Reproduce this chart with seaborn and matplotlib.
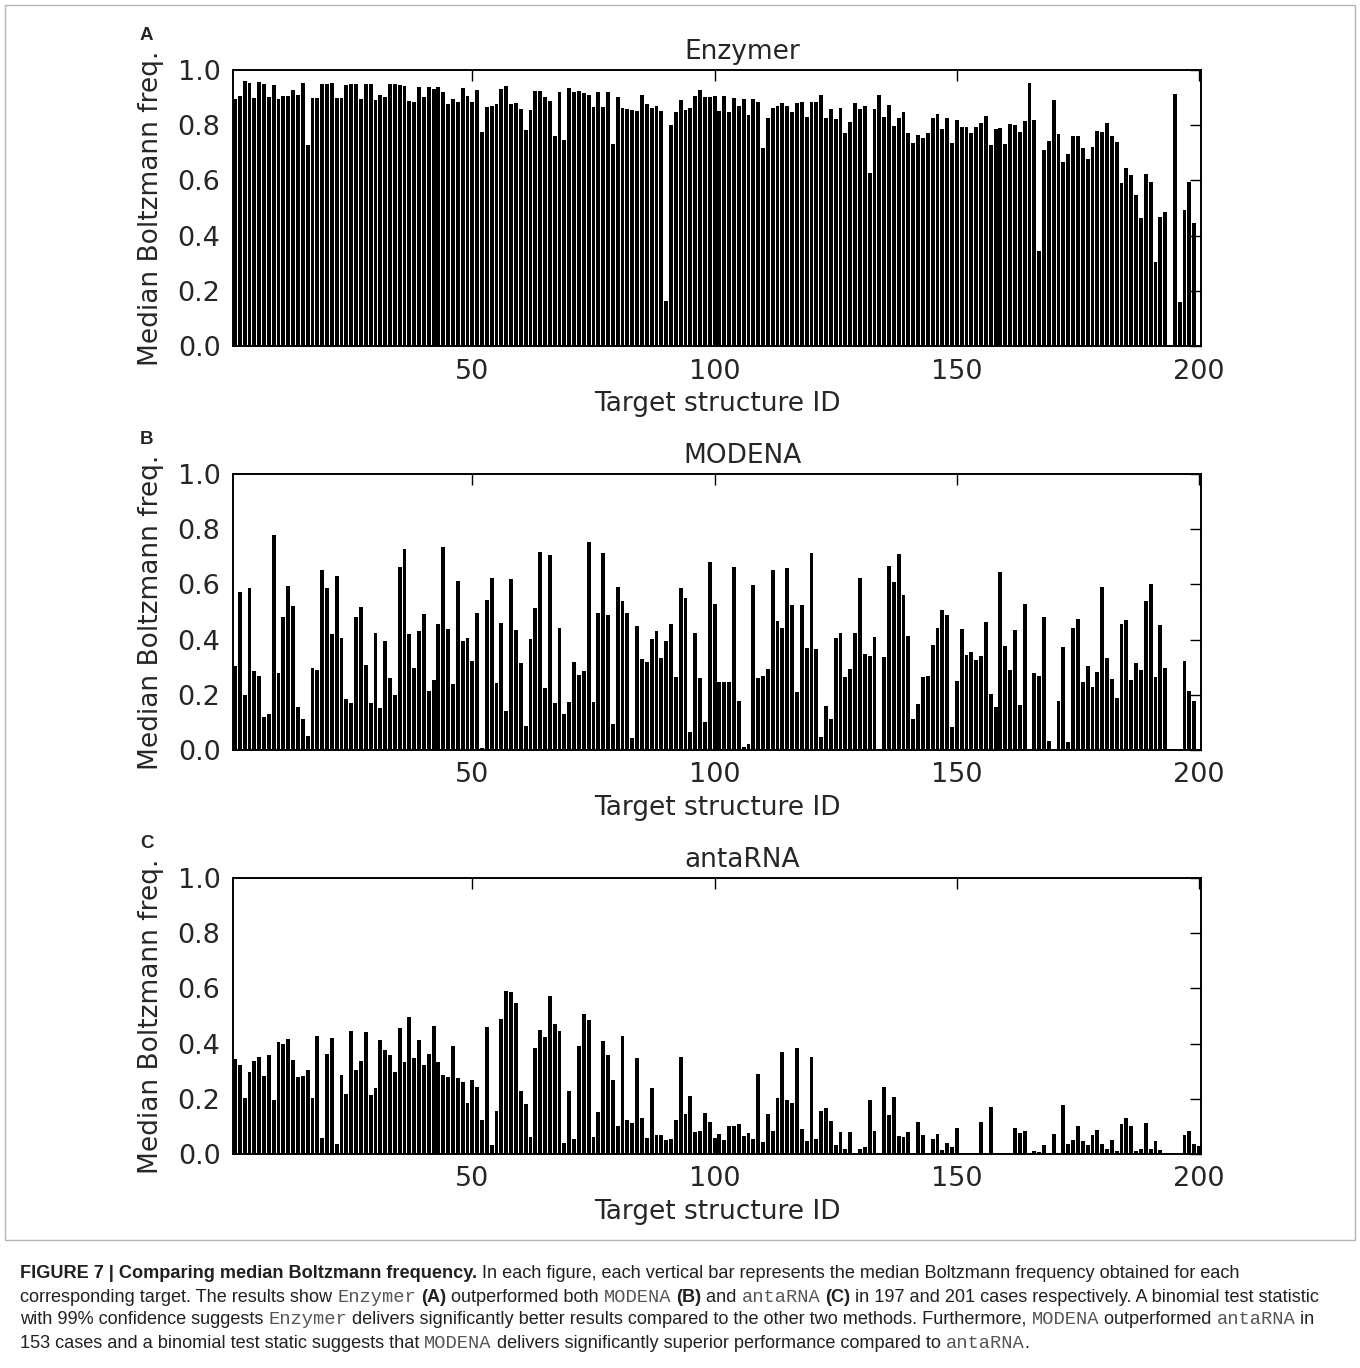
import matplotlib
matplotlib.use("Agg")
import matplotlib.pyplot as plt
import numpy as np
import pandas as pd
import seaborn as sns
from matplotlib.patches import Rectangle

target_ids = np.arange(1, 201)

enzymer_freq = [
    0.894, 0.906, 0.959, 0.953, 0.900, 0.958, 0.949, 0.903, 0.947, 0.896,
    0.905, 0.907, 0.926, 0.909, 0.952, 0.730, 0.900, 0.900, 0.949, 0.949,
    0.952, 0.899, 0.897, 0.947, 0.949, 0.948, 0.896, 0.948, 0.948, 0.890,
    0.909, 0.902, 0.948, 0.948, 0.947, 0.941, 0.886, 0.883, 0.937, 0.903,
    0.937, 0.932, 0.937, 0.920, 0.876, 0.896, 0.885, 0.936, 0.906, 0.885,
    0.927, 0.777, 0.865, 0.870, 0.878, 0.931, 0.941, 0.878, 0.882, 0.857,
    0.781, 0.856, 0.924, 0.924, 0.903, 0.888, 0.760, 0.919, 0.746, 0.935,
    0.919, 0.923, 0.917, 0.911, 0.865, 0.919, 0.865, 0.919, 0.732, 0.902,
    0.861, 0.859, 0.855, 0.850, 0.908, 0.877, 0.861, 0.870, 0.851, 0.164,
    0.801, 0.847, 0.891, 0.855, 0.864, 0.906, 0.926, 0.903, 0.903, 0.907,
    0.851, 0.906, 0.847, 0.897, 0.868, 0.894, 0.837, 0.895, 0.885, 0.716,
    0.825, 0.861, 0.871, 0.880, 0.868, 0.849, 0.879, 0.885, 0.831, 0.883,
    0.885, 0.911, 0.825, 0.859, 0.821, 0.863, 0.771, 0.810, 0.882, 0.860,
    0.871, 0.626, 0.860, 0.908, 0.831, 0.872, 0.798, 0.827, 0.847, 0.772,
    0.737, 0.765, 0.754, 0.772, 0.825, 0.841, 0.787, 0.827, 0.737, 0.819,
    0.795, 0.792, 0.773, 0.792, 0.809, 0.835, 0.730, 0.786, 0.791, 0.732,
    0.803, 0.801, 0.775, 0.814, 0.954, 0.819, 0.344, 0.710, 0.743, 0.891,
    0.768, 0.668, 0.694, 0.762, 0.762, 0.719, 0.679, 0.720, 0.778, 0.775,
    0.809, 0.762, 0.738, 0.589, 0.644, 0.620, 0.548, 0.465, 0.622, 0.595,
    0.306, 0.469, 0.487, 0.000, 0.912, 0.158, 0.494, 0.596, 0.445, 0.000,
]

modena_freq = [
    0.303, 0.571, 0.199, 0.587, 0.285, 0.269, 0.118, 0.130, 0.778, 0.279,
    0.483, 0.595, 0.522, 0.156, 0.114, 0.050, 0.297, 0.289, 0.651, 0.587,
    0.420, 0.632, 0.407, 0.185, 0.170, 0.481, 0.517, 0.307, 0.170, 0.425,
    0.153, 0.394, 0.261, 0.199, 0.662, 0.728, 0.420, 0.296, 0.432, 0.493,
    0.213, 0.255, 0.458, 0.737, 0.438, 0.238, 0.611, 0.394, 0.406, 0.322,
    0.498, 0.007, 0.543, 0.622, 0.241, 0.461, 0.140, 0.621, 0.434, 0.314,
    0.087, 0.401, 0.514, 0.716, 0.224, 0.708, 0.171, 0.441, 0.129, 0.175,
    0.319, 0.272, 0.286, 0.755, 0.175, 0.495, 0.715, 0.488, 0.095, 0.591,
    0.539, 0.498, 0.042, 0.448, 0.330, 0.319, 0.403, 0.430, 0.333, 0.394,
    0.457, 0.263, 0.586, 0.550, 0.066, 0.425, 0.262, 0.101, 0.682, 0.528,
    0.245, 0.246, 0.245, 0.664, 0.178, 0.012, 0.020, 0.597, 0.260, 0.269,
    0.293, 0.652, 0.466, 0.443, 0.661, 0.524, 0.210, 0.527, 0.370, 0.715,
    0.365, 0.046, 0.158, 0.111, 0.407, 0.423, 0.266, 0.295, 0.424, 0.622,
    0.349, 0.342, 0.409, 0.000, 0.338, 0.668, 0.610, 0.711, 0.560, 0.414,
    0.111, 0.168, 0.266, 0.267, 0.379, 0.442, 0.507, 0.490, 0.082, 0.251,
    0.440, 0.344, 0.354, 0.325, 0.341, 0.465, 0.203, 0.156, 0.644, 0.377,
    0.290, 0.436, 0.163, 0.528, 0.000, 0.278, 0.268, 0.482, 0.034, 0.000,
    0.178, 0.372, 0.029, 0.442, 0.473, 0.245, 0.303, 0.230, 0.281, 0.589,
    0.332, 0.256, 0.187, 0.455, 0.470, 0.255, 0.316, 0.291, 0.541, 0.603,
    0.266, 0.453, 0.296, 0.004, 0.004, 0.004, 0.324, 0.214, 0.178, 0.000,
]

antarna_freq = [
    0.343, 0.321, 0.204, 0.297, 0.338, 0.351, 0.281, 0.360, 0.194, 0.405,
    0.399, 0.415, 0.342, 0.279, 0.283, 0.303, 0.204, 0.426, 0.057, 0.362,
    0.420, 0.035, 0.285, 0.217, 0.444, 0.304, 0.337, 0.442, 0.214, 0.238,
    0.414, 0.377, 0.360, 0.296, 0.455, 0.332, 0.496, 0.347, 0.413, 0.321,
    0.361, 0.464, 0.333, 0.286, 0.279, 0.393, 0.274, 0.261, 0.185, 0.268,
    0.243, 0.123, 0.459, 0.033, 0.157, 0.489, 0.591, 0.587, 0.546, 0.228,
    0.181, 0.063, 0.385, 0.448, 0.423, 0.572, 0.470, 0.444, 0.039, 0.227,
    0.053, 0.390, 0.507, 0.484, 0.062, 0.152, 0.409, 0.360, 0.268, 0.103,
    0.426, 0.124, 0.111, 0.348, 0.129, 0.058, 0.239, 0.070, 0.069, 0.050,
    0.053, 0.123, 0.353, 0.145, 0.211, 0.081, 0.085, 0.147, 0.117, 0.057,
    0.074, 0.051, 0.101, 0.101, 0.109, 0.066, 0.076, 0.056, 0.290, 0.043,
    0.146, 0.083, 0.204, 0.368, 0.196, 0.186, 0.384, 0.092, 0.046, 0.350,
    0.056, 0.154, 0.166, 0.118, 0.034, 0.080, 0.019, 0.081, 0.000, 0.017,
    0.024, 0.197, 0.084, 0.000, 0.242, 0.140, 0.207, 0.066, 0.061, 0.078,
    0.000, 0.117, 0.068, 0.000, 0.055, 0.074, 0.014, 0.039, 0.024, 0.095,
    0.000, 0.000, 0.000, 0.000, 0.117, 0.000, 0.169, 0.000, 0.004, 0.000,
    0.000, 0.094, 0.076, 0.082, 0.000, 0.012, 0.007, 0.033, 0.000, 0.071,
    0.000, 0.179, 0.037, 0.051, 0.103, 0.047, 0.031, 0.068, 0.087, 0.037,
    0.019, 0.050, 0.011, 0.109, 0.130, 0.103, 0.011, 0.017, 0.111, 0.018,
    0.048, 0.016, 0.004, 0.000, 0.000, 0.000, 0.069, 0.082, 0.036, 0.030,
]

method_names = ["Enzymer", "MODENA", "antaRNA"]
panel_letters = ["A", "B", "C"]
x_ticks = [50, 100, 150, 200]
y_ticks = [0.0, 0.2, 0.4, 0.6, 0.8, 1.0]

# caption pieces: (text, style) where style is "n" normal, "b" bold, "m" mono
caption_lines = [
    [("FIGURE 7 | Comparing median Boltzmann frequency.", "b"),
     (" In each figure, each vertical bar represents the median Boltzmann frequency obtained for each", "n")],
    [("corresponding target. The results show ", "n"), ("Enzymer", "m"), (" ", "n"), ("(A)", "b"),
     (" outperformed both ", "n"), ("MODENA", "m"), (" ", "n"), ("(B)", "b"), (" and ", "n"),
     ("antaRNA", "m"), (" ", "n"), ("(C)", "b"),
     (" in 197 and 201 cases respectively. A binomial test statistic", "n")],
    [("with 99% confidence suggests ", "n"), ("Enzymer", "m"),
     (" delivers significantly better results compared to the other two methods. Furthermore, ", "n"),
     ("MODENA", "m"), (" outperformed ", "n"), ("antaRNA", "m"), (" in", "n")],
    [("153 cases and a binomial test static suggests that ", "n"), ("MODENA", "m"),
     (" delivers significantly superior performance compared to ", "n"), ("antaRNA", "m"), (".", "n")],
]

W, H = 1360, 1368


def main():
    sns.set_style("white")
    plt.rcParams["font.family"] = ["DejaVu Sans"]

    fig = plt.figure(figsize=(W / 100, H / 100), dpi=100)

    series = [enzymer_freq, modena_freq, antarna_freq]
    bottoms_px = [346, 750, 1154]
    for vals, name, letter, bot in zip(series, method_names, panel_letters, bottoms_px):
        ax = fig.add_axes([233 / W, 1 - bot / H, 968 / W, 276 / H])
        df = pd.DataFrame({"id": target_ids, "freq": vals})
        sns.barplot(data=df, x="id", y="freq", native_scale=True, color="black",
                    saturation=1, width=0.8, errorbar=None, linewidth=0, ax=ax)
        ax.set_xlim(0.6, 200.4)
        ax.set_ylim(0, 1)
        ax.set_xticks(x_ticks)
        ax.set_xticklabels([str(t) for t in x_ticks])
        ax.set_yticks(y_ticks)
        ax.set_yticklabels([f"{t:.1f}" for t in y_ticks])
        ax.tick_params(direction="in", top=True, right=True, length=8, width=1,
                       labelsize=19.5, pad=9, color="black")
        for sp in ax.spines.values():
            sp.set_linewidth(1.4)
            sp.set_color("black")
        ax.set_title(name, fontsize=19, pad=8, x=0.526)
        ax.set_xlabel("Target structure ID", fontsize=19, labelpad=5)
        ax.set_ylabel("Median Boltzmann freq.", fontsize=19, labelpad=10)
        fig.text(140 / W, 1 - (bot - 311) / H, letter, fontsize=13.5, fontweight="bold",
                 family=["Liberation Sans"], ha="left", va="center")

    # thin frame around the figure panels
    fig.patches.append(Rectangle((5 / W, 1 - 1240 / H), 1350 / W, 1235 / H,
                                 transform=fig.transFigure, fill=False,
                                 edgecolor="#b4b4b4", linewidth=1))

    renderer = fig.canvas.get_renderer()
    styles = {
        "n": dict(family=["Liberation Sans"], fontsize=13.1, color="#231f20"),
        "b": dict(family=["Liberation Sans"], fontsize=13.1, fontweight="bold", color="#231f20"),
        "m": dict(family=["Liberation Mono"], fontsize=13.5, color="#555555"),
    }

    def text_width(s, st):
        a = fig.text(0, 0, "|" + s + "|", **st)
        b = fig.text(0, 0, "||", **st)
        w = a.get_window_extent(renderer).width - b.get_window_extent(renderer).width
        a.remove()
        b.remove()
        return w

    for i, line in enumerate(caption_lines):
        x = 20
        y = 1274 + i * 23
        for s, kind in line:
            st = styles[kind]
            fig.text(x / W, 1 - y / H, s, ha="left", va="center", **st)
            x += text_width(s, st)

    fig.savefig("out.png", dpi=100)
    plt.close(fig)


if __name__ == "__main__":
    main()
